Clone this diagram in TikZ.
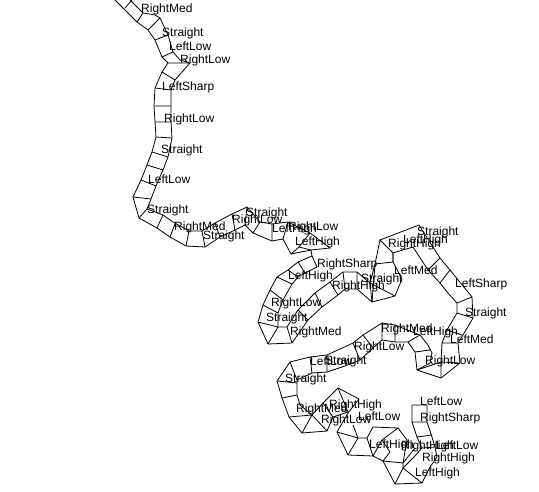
\documentclass[tikz,border=0pt]{standalone}
\usepackage{fontspec}
\setmainfont{Liberation Sans}
\tikzset{edgeline/.style={draw=black,line width=0.8pt,line join=miter},
lab/.style={anchor=base west,inner sep=0pt,yshift=0.5pt,font=\fontsize{12}{12}\selectfont,text=black}}
\begin{document}
\begin{tikzpicture}[x=1pt,y=-1pt]
\useasboundingbox (0,0) rectangle (539,492);
\fill[white] (0,0) rectangle (539,492);
% section 1 : top road
\draw[edgeline] (115,0)--(137,22)--(148,30)--(155,40)--(162,57)--(168,63)--(190,63)--(175,80)--(171,90)--(171,122)--(172,138)--(168,157)--(163,170)--(156,186)--(151,199)--(147,209)--(163,215)--(173,222)--(189,231)--(202,231)--(215,223)--(232,214)--(247,207)--(260,222)--(272,224)--(288,222)--(310,233)--(330,248)--(311,250)--(312,256)--(298,262)--(288,270)--(277,277)--(270,290)--(263,305)--(258,322)--(268,344)--(292,343)--(308,320)--(322,307)--(338,295)--(345,289)--(357,289)--(372,302)--(395,296)--(402,279)--(393,262)--(393,253)--(380,240)--(375,264)--(372,302);
\draw[edgeline] (130,0)--(143,13)--(155,15)--(160,18)--(168,35)--(173,52)--(180,60)--(190,63);
\draw[edgeline] (168,63)--(162,72)--(155,88)--(154,106)--(155,122)--(156,137)--(152,152)--(147,165)--(141,180)--(133,197)--(139,218)--(157,228)--(170,237)--(186,246)--(205,247)--(220,237)--(235,230)--(245,225)--(253,233)--(272,241)--(283,239)--(291,254)--(311,250);
\draw[edgeline] (162,72)--(175,80) (125,8)--(132,0) (137,22)--(143,13) (148,30)--(160,18) (155,40)--(168,35) (162,57)--(173,52);
\draw[edgeline] (155,88)--(171,90) (154,106)--(171,106) (155,122)--(171,122) (156,137)--(172,138) (152,152)--(168,157) (147,165)--(163,170) (141,180)--(156,186) (133,197)--(151,199) (139,218)--(147,209) (157,228)--(163,215) (170,237)--(175,224) (186,246)--(189,231) (205,247)--(202,231) (215,223)--(220,237) (232,214)--(235,230) (247,207)--(245,225) (260,222)--(253,233) (272,224)--(272,241) (288,222)--(283,239);
\draw[edgeline] (310,233)--(299,247)--(291,254) (299,247)--(311,250);
% section 2 : loop and second road
\draw[edgeline] (312,256)--(317,267)--(305,273)--(298,277)--(292,284)--(283,300)--(278,313)--(278,327)--(287,327)--(298,310)--(315,293)--(330,282)--(343,272)--(357,272)--(370,283)--(375,264);
\draw[edgeline] (298,262)--(305,273) (288,270)--(298,277) (277,277)--(292,284) (270,290)--(283,300) (263,305)--(278,313) (258,322)--(278,327) (268,344)--(278,327) (292,343)--(287,327) (298,310)--(308,320) (315,293)--(322,307) (330,282)--(338,295) (343,272)--(345,289) (357,272)--(357,289) (370,283)--(372,302) (370,283)--(395,296) (375,264)--(393,262);
% section 3 : right road
\draw[edgeline] (380,240)--(419,225)--(440,258)--(450,270)--(472,297)--(473,318)--(460,340)--(458,343)--(460,363)--(441,378)--(417,370)--(415,352)--(408,342)--(395,342)--(382,340)--(373,348)--(360,360)--(345,366)--(327,372)--(312,373)--(297,380)--(297,395)--(300,405)--(312,415)--(323,403)--(338,388)--(359,399)--(348,413)--(337,432)--(348,455)--(373,456)--(382,440)--(398,428)--(373,427)--(367,438)--(358,438);
\draw[edgeline] (393,253)--(413,247)--(428,270)--(440,283)--(448,293)--(457,303)--(457,313)--(447,330)--(442,343)--(441,362)--(441,378) (441,362)--(417,370) (441,362)--(460,363) (442,343)--(458,343) (447,330)--(462,335) (393,262)--(393,253);
\draw[edgeline] (428,270)--(440,258) (440,283)--(450,270) (457,303)--(472,297) (457,313)--(473,318);
\draw[edgeline] (382,340)--(382,323)--(363,335)--(353,343)--(327,355)--(310,357)--(290,362)--(277,381)--(282,398)--(289,417)--(302,433)--(327,431)--(333,417)--(348,412) (382,323)--(395,325)--(420,335)--(428,345)--(432,353)--(430,363)--(417,370) (395,342)--(395,325) (408,342)--(420,335) (415,352)--(430,350);
\draw[edgeline] (363,335)--(373,348) (353,343)--(360,360) (327,355)--(327,372) (310,357)--(312,373) (290,362)--(297,380) (277,381)--(297,383) (282,398)--(297,395) (289,417)--(312,415) (302,433)--(312,415) (327,431)--(312,415) (323,403)--(333,417) (338,388)--(348,412) (337,432)--(358,438)--(348,455) (358,438)--(353,425) (367,438)--(373,456);
% section 4 : bottom
\draw[edgeline] (412,405)--(427,405)--(427,422)--(432,437)--(435,447)--(437,457)--(430,467)--(422,483)--(395,484)--(383,461)--(373,456) (412,405)--(412,422)--(417,437)--(422,448)--(414,457)--(403,468)--(395,484) (412,422)--(427,422) (417,437)--(432,435) (422,448)--(435,447) (403,468)--(422,483) (383,461)--(403,463)--(403,468) (398,428)--(407,440)--(403,463) (382,440)--(390,452)--(383,461) (403,463)--(415,448);
\node[lab] at (141,13) {RightMed};
\node[lab] at (162,37) {Straight};
\node[lab] at (169,51) {LeftLow};
\node[lab] at (180,64) {RightLow};
\node[lab] at (162,91) {LeftSharp};
\node[lab] at (164,123) {RightLow};
\node[lab] at (161,154) {Straight};
\node[lab] at (148,184) {LeftLow};
\node[lab] at (147,214) {Straight};
\node[lab] at (174,231) {RightMed};
\node[lab] at (203,240) {Straight};
\node[lab] at (232,224) {RightLow};
\node[lab] at (246,217) {Straight};
\node[lab] at (272,233) {LeftHigh};
\node[lab] at (288,231) {RightLow};
\node[lab] at (295,246) {LeftHigh};
\node[lab] at (317,268) {RightSharp};
\node[lab] at (288,280) {LeftHigh};
\node[lab] at (332,290) {RightHigh};
\node[lab] at (271,307) {RightLow};
\node[lab] at (266,322) {Straight};
\node[lab] at (290,336) {RightMed};
\node[lab] at (361,283) {Straight};
\node[lab] at (388,248) {RightHigh};
\node[lab] at (403,244) {LeftHigh};
\node[lab] at (417,236) {Straight};
\node[lab] at (394,275) {LeftMed};
\node[lab] at (455,288) {LeftSharp};
\node[lab] at (465,317) {Straight};
\node[lab] at (450,344) {LeftMed};
\node[lab] at (425,365) {RightLow};
\node[lab] at (413,336) {LeftHigh};
\node[lab] at (381,333) {RightMed};
\node[lab] at (354,351) {RightLow};
\node[lab] at (310,366) {LeftLow};
\node[lab] at (325,365) {Straight};
\node[lab] at (285,383) {Straight};
\node[lab] at (296,413) {RightMed};
\node[lab] at (329,409) {RightHigh};
\node[lab] at (321,424) {RightLow};
\node[lab] at (358,421) {LeftLow};
\node[lab] at (369,449) {LeftHigh};
\node[lab] at (401,450) {RightHigh};
\node[lab] at (420,406) {LeftLow};
\node[lab] at (420,422) {RightSharp};
\node[lab] at (436,450) {LeftLow};
\node[lab] at (422,462) {RightHigh};
\node[lab] at (415,477) {LeftHigh};
\end{tikzpicture}
\end{document}
